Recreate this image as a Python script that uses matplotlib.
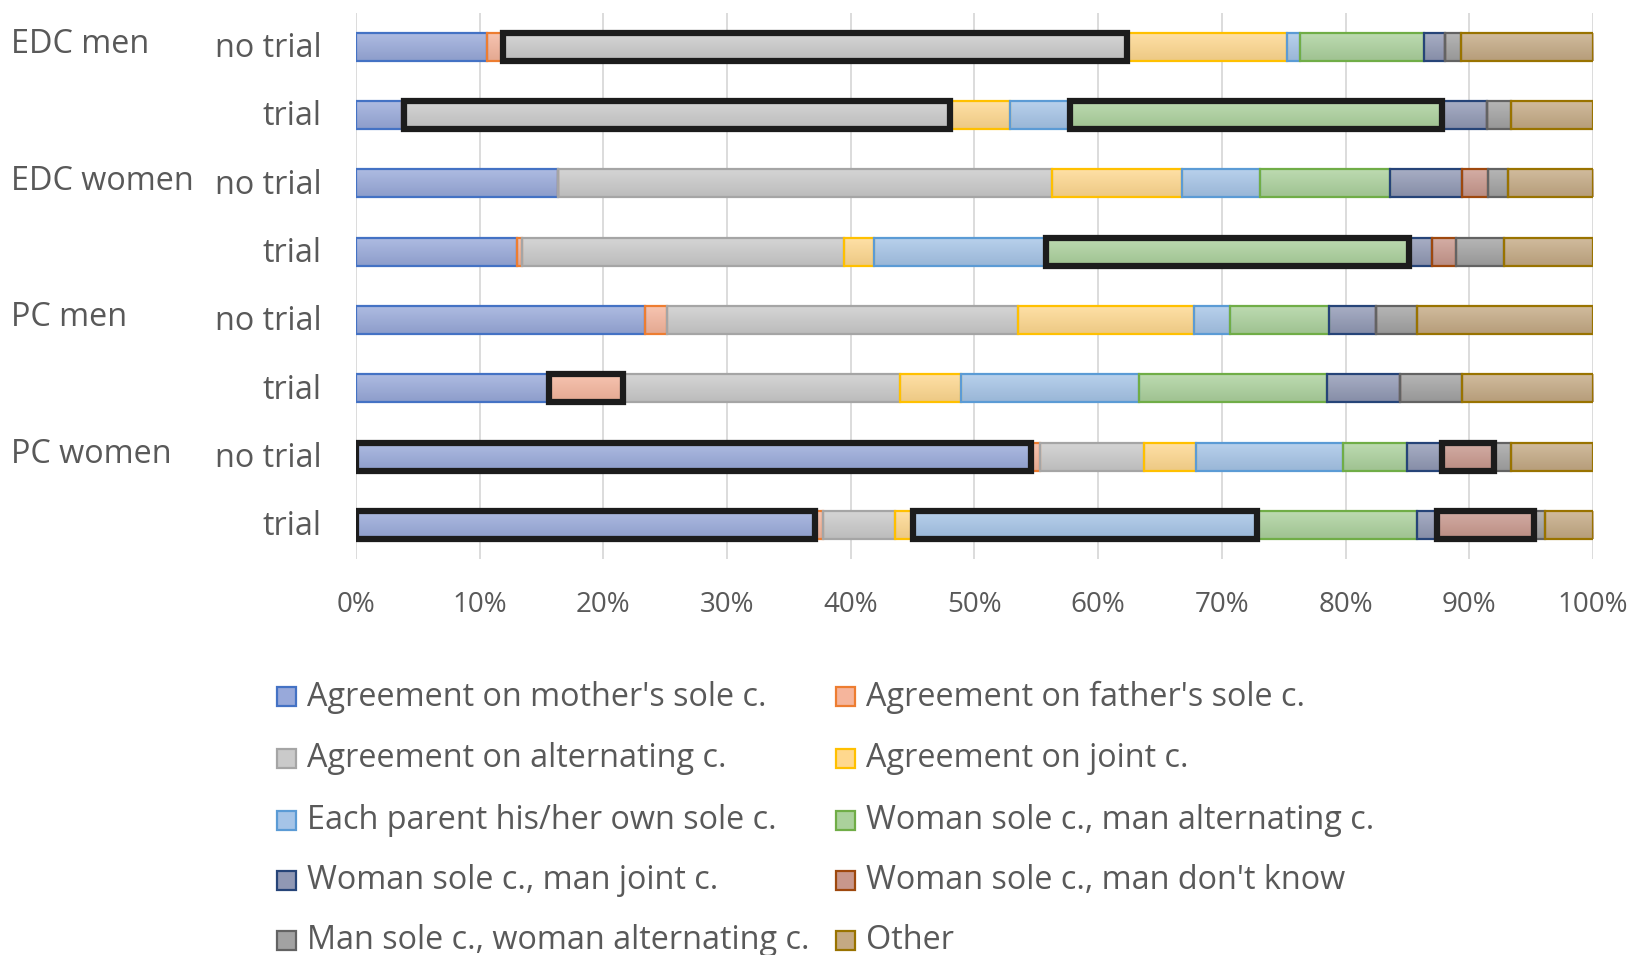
import numpy as np
from matplotlib import pyplot as plt
from matplotlib.patches import Rectangle
from matplotlib.colors import LinearSegmentedColormap, to_rgb

plt.rcParams['font.family'] = ['Open Sans', 'DejaVu Sans']

W, H = 1633, 955

# 数据（百分比，按行读取）
groups = ['EDC men', 'EDC women', 'PC men', 'PC women']
rows = ['no trial', 'trial', 'no trial', 'trial', 'no trial', 'trial', 'no trial', 'trial']
names = ["Agreement on mother's sole c.", "Agreement on father's sole c.",
         "Agreement on alternating c.", "Agreement on joint c.",
         "Each parent his/her own sole c.", "Woman sole c., man alternating c.",
         "Woman sole c., man joint c.", "Woman sole c., man don't know",
         "Man sole c., woman alternating c.", "Other"]
mother = [10.6, 3.7, 16.3, 13.0, 23.3, 15.6, 54.5, 37.1]
father = [1.3, 0.2, 0.0, 0.4, 1.8, 6.0, 0.7, 0.6]
alternating = [50.4, 44.1, 40.0, 26.1, 28.4, 22.3, 8.4, 5.8]
joint = [13.0, 4.8, 10.5, 2.4, 14.2, 5.0, 4.2, 1.5]
own_sole = [1.0, 4.9, 6.3, 13.9, 2.9, 14.3, 11.9, 27.8]
woman_alt = [10.0, 30.0, 10.5, 29.4, 8.0, 15.2, 5.2, 12.9]
woman_joint = [1.7, 3.6, 5.8, 1.9, 3.8, 5.9, 2.8, 1.6]
woman_dk = [0.0, 0.0, 2.1, 1.9, 0.0, 0.0, 4.2, 7.8]
man_alt = [1.3, 2.0, 1.6, 3.9, 3.3, 5.0, 1.4, 0.9]
other = [10.7, 6.6, 6.9, 7.2, 14.2, 10.6, 6.6, 3.9]

# 加粗黑框的段：(行, 系列)
highlight = [(0, 2), (1, 2), (1, 5), (3, 5), (5, 1), (6, 0), (6, 7), (7, 0), (7, 4), (7, 7)]

fills = ['#98a9da', '#f5b59c', '#cacaca', '#ffd88e', '#a5c4e7',
         '#abd19c', '#9098b4', '#c8978c', '#a2a2a2', '#c4a983']
edges = ['#4472c4', '#ed7d31', '#a5a5a5', '#ffc000', '#5b9bd5',
         '#70ad47', '#264478', '#9e480e', '#636363', '#997300']

series = np.array([mother, father, alternating, joint, own_sole,
                   woman_alt, woman_joint, woman_dk, man_alt, other])
series = series / series.sum(axis=0) * 100


def shade(c, f):
    # f>0 变亮, f<0 变暗
    c = np.array(to_rgb(c))
    return tuple(c + (1 - c) * f) if f > 0 else tuple(c * (1 + f))


fig = plt.figure(figsize=(W / 100, H / 100), dpi=100)
ax = fig.add_axes([356 / W, 1 - 559 / H, 1237 / W, (559 - 12.5) / H])

grad = np.linspace(0, 1, 32).reshape(-1, 1)
y = np.arange(len(rows))
bh = 0.41
left = np.zeros(len(rows))
for k in range(len(series)):
    cmap = LinearSegmentedColormap.from_list('g%d' % k, [shade(fills[k], 0.22), shade(fills[k], -0.07)])
    bars = ax.barh(y, series[k], left=left, height=bh, color=fills[k], linewidth=0, zorder=2)
    for r, p in enumerate(bars):
        if series[k][r] <= 0:
            continue
        im = ax.imshow(grad, cmap=cmap, aspect='auto', zorder=2.1,
                       extent=(left[r], left[r] + series[k][r], y[r] + bh / 2, y[r] - bh / 2))
        im.set_clip_path(p)
    ax.barh(y, series[k], left=left, height=bh, fill=False,
            edgecolor=edges[k], linewidth=1.6, zorder=2.2)
    for (r, s) in highlight:
        if s == k:
            ax.barh(y[r], series[k][r], left=left[r], height=bh, fill=False,
                    edgecolor='#1c1c1c', linewidth=4.5, zorder=4)
    left += series[k]

ax.set_xlim(0, 100)
ax.set_ylim(7.5, -0.5)
ax.set_xticks(np.arange(0, 101, 10))
ax.set_xticklabels([f'{t}%' for t in range(0, 101, 10)])
ax.set_yticks(y - 0.03)
ax.set_yticklabels(rows)
ax.tick_params(axis='x', length=0, pad=23, labelsize=20, labelcolor='#595959')
ax.tick_params(axis='y', length=0, pad=25, labelsize=23.3, labelcolor='#595959')
for sp in ax.spines.values():
    sp.set_visible(False)
ax.grid(axis='x', color='#d9d9d9', linewidth=1.3, zorder=0)
ax.set_axisbelow(True)

# 分组标签
for i, g in enumerate(groups):
    ax.text((11 - 356) / 1237, 2 * i - 0.03, g, transform=ax.get_yaxis_transform(),
            ha='left', va='center', fontsize=23.3, color='#595959')

# 图例（手动放置）
leg_x = [277, 836]
leg_y = [697, 758, 820, 880, 940]
for i, name in enumerate(names):
    col, row = i % 2, i // 2
    x0, y0 = leg_x[col], leg_y[row]
    fig.add_artist(Rectangle((x0 / W, 1 - (y0 + 9.5) / H), 19 / W, 19 / H,
                             transform=fig.transFigure, facecolor=fills[i],
                             edgecolor=edges[i], linewidth=1.6))
    fig.text((x0 + 30) / W, 1 - y0 / H, name, va='center', ha='left',
             fontsize=23.3, color='#595959')

plt.savefig('out.png', dpi=100)
